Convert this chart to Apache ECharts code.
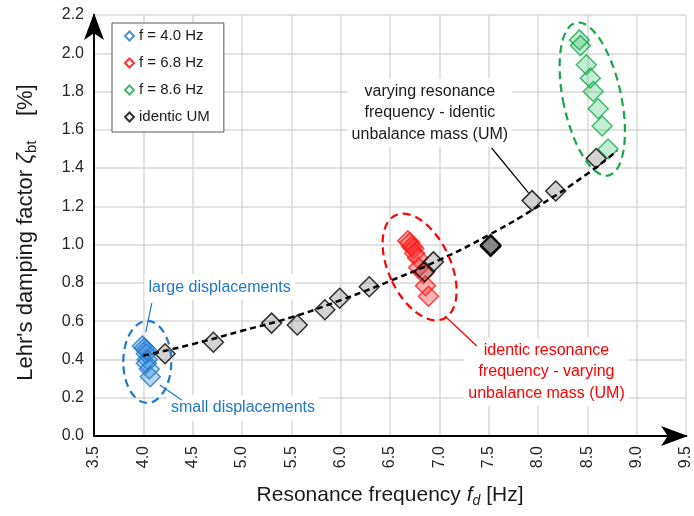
<!DOCTYPE html>
<html>
<head>
<meta charset="utf-8">
<script src="https://cdn.jsdelivr.net/npm/echarts@6/dist/echarts.min.js"></script>
<style>
  html, body { margin: 0; padding: 0; background: #fff; }
  #chart { width: 694px; height: 516px; }
</style>
</head>
<body>
<div id="chart"></div>
<script>
// values: [resonance frequency f_d in Hz, Lehr's damping in %]
var f40 = [[3.99, 0.47], [4.01, 0.46], [4.03, 0.45], [4.03, 0.43], [4.04, 0.40], [4.03, 0.38], [4.06, 0.35], [4.07, 0.31]];
var f68 = [[6.68, 1.02], [6.70, 1.01], [6.72, 0.99], [6.74, 0.98], [6.75, 0.955], [6.78, 0.93], [6.79, 0.88], [6.84, 0.85], [6.86, 0.785], [6.89, 0.73]];
var f86 = [[8.42, 2.07], [8.43, 2.04], [8.49, 1.94], [8.53, 1.87], [8.56, 1.80], [8.61, 1.71], [8.65, 1.62], [8.71, 1.50]];
var identUM = [[4.22, 0.43], [4.71, 0.49], [5.30, 0.59], [5.56, 0.58], [5.84, 0.66], [5.99, 0.72], [6.29, 0.78], [6.85, 0.86], [6.94, 0.91],
  [7.52, 0.99], [7.52, 0.993], [7.52, 0.996], [7.52, 1.0], [7.94, 1.23], [8.18, 1.28], [8.59, 1.45]];
// dashed fit line
var trend = [[4.0, 0.42], [4.5, 0.48], [5.0, 0.55], [5.5, 0.62], [6.0, 0.71], [6.5, 0.81], [7.0, 0.92], [7.5, 1.05], [8.0, 1.20], [8.5, 1.37], [8.8, 1.49]];

var seriesNames = ['f = 4.0 Hz', 'f = 6.8 Hz', 'f = 8.6 Hz', 'identic UM'];
var xMin = 3.5, xMax = 9.5, xStep = 0.5;
var yMin = 0, yMax = 2.2, yStep = 0.2;

var FONT = 'Liberation Sans, Arial, sans-serif';
var BLUE = '#1f78c8', RED = '#ff0000', GREEN = '#19a64a';

var myChart = echarts.init(document.getElementById('chart'));

function axisLineStyle() {
  return {
    show: true,
    onZero: false,
    symbol: ['none', 'arrow'],
    symbolSize: [15, 27],
    symbolOffset: [0, 2],
    lineStyle: { color: '#000', width: 2 }
  };
}

function scatter(name, data, fill, border) {
  return {
    name: name,
    type: 'scatter',
    data: data,
    symbol: 'diamond',
    symbolSize: 20,
    z: 3,
    itemStyle: { color: fill, borderColor: border, borderWidth: 1.5 },
    emphasis: { disabled: true }
  };
}

var option = {
  animation: false,
  backgroundColor: '#fff',
  textStyle: { fontFamily: FONT },
  grid: { left: 94, right: 7, top: 15, bottom: 80 },
  legend: {
    orient: 'vertical',
    left: 112,
    top: 23,
    padding: [5, 14, 7, 12],
    itemGap: 11,
    itemWidth: 9,
    itemHeight: 9,
    backgroundColor: '#fff',
    borderColor: '#595959',
    borderWidth: 1,
    textStyle: { fontSize: 15, color: '#1a1a1a', fontFamily: FONT, lineHeight: 16 },
    data: [
      { name: seriesNames[0], icon: 'diamond', itemStyle: { color: '#fff', borderColor: BLUE, borderWidth: 2 } },
      { name: seriesNames[1], icon: 'diamond', itemStyle: { color: '#fff', borderColor: RED, borderWidth: 2 } },
      { name: seriesNames[2], icon: 'diamond', itemStyle: { color: '#fff', borderColor: GREEN, borderWidth: 2 } },
      { name: seriesNames[3], icon: 'diamond', itemStyle: { color: '#fff', borderColor: '#000', borderWidth: 2 } }
    ]
  },
  xAxis: {
    type: 'value',
    min: xMin,
    max: xMax,
    interval: xStep,
    axisLine: axisLineStyle(),
    axisTick: { show: false },
    splitLine: { show: true, lineStyle: { color: '#d9d9d9', width: 1.5 } },
    axisLabel: {
      rotate: 90,
      margin: 10,
      fontSize: 16,
      color: '#262626',
      fontFamily: FONT,
      formatter: function (v) { return v.toFixed(1); }
    },
    name: '{a|Resonance frequency }{i|f}{s|d}{a| [Hz]}',
    nameLocation: 'middle',
    nameGap: 47,
    nameTextStyle: {
      rich: {
        a: { fontSize: 21, color: '#1a1a1a', fontFamily: FONT, lineHeight: 25 },
        i: { fontSize: 21, color: '#1a1a1a', fontFamily: FONT, fontStyle: 'italic', lineHeight: 25 },
        s: { fontSize: 14, color: '#1a1a1a', fontFamily: FONT, fontStyle: 'italic', lineHeight: 14, verticalAlign: 'bottom' }
      }
    }
  },
  yAxis: {
    type: 'value',
    min: yMin,
    max: yMax,
    interval: yStep,
    axisLine: axisLineStyle(),
    axisTick: { show: false },
    splitLine: { show: true, lineStyle: { color: '#d9d9d9', width: 1.5 } },
    axisLabel: {
      margin: 10,
      fontSize: 16,
      color: '#262626',
      fontFamily: FONT,
      formatter: function (v) { return v.toFixed(1); }
    },
    name: "{a|Lehr's damping factor }{i|ζ}{s|bt}{a|    [%]}",
    nameLocation: 'middle',
    nameGap: 55,
    nameTextStyle: {
      padding: [0, 14, 0, 0],
      rich: {
        a: { fontSize: 22, color: '#1a1a1a', fontFamily: FONT, lineHeight: 26 },
        i: { fontSize: 23, color: '#1a1a1a', fontFamily: FONT, fontStyle: 'italic', lineHeight: 26 },
        s: { fontSize: 15, color: '#1a1a1a', fontFamily: FONT, lineHeight: 15, verticalAlign: 'bottom' }
      }
    }
  },
  series: [
    scatter(seriesNames[0], f40, 'rgba(40,130,220,0.4)', BLUE),
    scatter(seriesNames[1], f68, 'rgba(255,40,40,0.45)', '#ff1a1a'),
    scatter(seriesNames[2], f86, 'rgba(40,190,100,0.35)', '#1aaa50'),
    scatter(seriesNames[3], identUM, 'rgba(98,98,98,0.35)', '#000'),
    {
      name: 'trend',
      type: 'line',
      data: trend,
      smooth: true,
      showSymbol: false,
      silent: true,
      z: 4,
      lineStyle: { color: '#000', width: 2.5, type: [6, 4] }
    }
  ]
};
myChart.setOption(option);

// annotations, anchored in data coordinates
var ellipses = [
  { at: [4.04, 0.387], rx: 24, ry: 41, rot: 0, color: BLUE },
  { at: [6.80, 0.883], rx: 31, ry: 57, rot: 25, color: RED },
  { at: [8.55, 1.761], rx: 29, ry: 78, rot: 12, color: GREEN }
];
var leaders = [
  { from: [4.086, 0.695], to: [4.025, 0.543], color: BLUE },
  { from: [4.167, 0.266], to: [4.389, 0.188], color: BLUE },
  { from: [7.530, 1.505], to: [7.904, 1.270], color: '#000' },
  { from: [7.056, 0.627], to: [7.379, 0.470], color: RED }
];
var notes = [
  { at: [4.773, 0.778], text: 'large displacements', color: BLUE },
  { at: [5.01, 0.146], text: 'small displacements', color: BLUE },
  { at: [6.904, 1.688], text: 'varying resonance\nfrequency - identic\nunbalance mass (UM)', color: '#1a1a1a' },
  { at: [8.086, 0.334], text: 'identic resonance\nfrequency - varying\nunbalance mass (UM)', color: RED }
];

function px(p) { return myChart.convertToPixel({ gridIndex: 0 }, p); }

var graphics = [];
notes.forEach(function (n) {
  var p = px(n.at);
  graphics.push({
    type: 'text', x: p[0], y: p[1], z: 1,
    style: {
      text: n.text, fill: n.color, font: '16px ' + FONT, lineHeight: 21.5,
      align: 'center', verticalAlign: 'middle', backgroundColor: '#fff', padding: [2, 4]
    }
  });
});
leaders.forEach(function (l) {
  var a = px(l.from), b = px(l.to);
  graphics.push({
    type: 'line', z: 2,
    shape: { x1: a[0], y1: a[1], x2: b[0], y2: b[1] },
    style: { stroke: l.color, lineWidth: 1.2 }
  });
});
ellipses.forEach(function (e) {
  var p = px(e.at);
  graphics.push({
    type: 'ellipse', x: p[0], y: p[1], z: 5,
    rotation: e.rot * Math.PI / 180,
    shape: { cx: 0, cy: 0, rx: e.rx, ry: e.ry },
    style: { fill: 'none', stroke: e.color, lineWidth: 2.2, lineDash: [8, 5] }
  });
});
myChart.setOption({ graphic: graphics });
</script>
</body>
</html>
